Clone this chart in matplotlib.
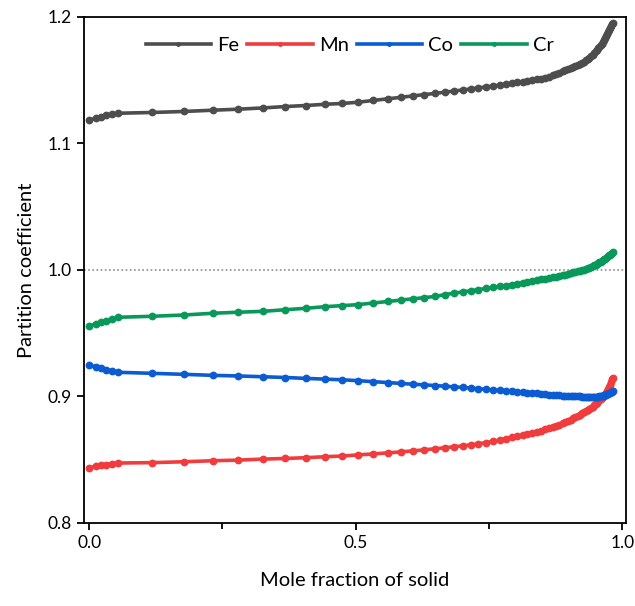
import matplotlib
matplotlib.use("Agg")
import matplotlib.pyplot as plt
import matplotlib.ticker as mticker

plt.rcParams['font.family'] = ['Lato', 'DejaVu Sans']

# mole fraction of solid (x values of every point)
frac_solid = [0.000, 0.012, 0.022, 0.032, 0.042, 0.055, 0.118, 0.178, 0.232, 0.280,
              0.326, 0.368, 0.406, 0.443, 0.474, 0.504, 0.533, 0.560, 0.585, 0.607,
              0.628, 0.649, 0.668, 0.685, 0.701, 0.716, 0.730, 0.744, 0.757, 0.770,
              0.782, 0.793, 0.803, 0.813, 0.822, 0.831, 0.839, 0.847, 0.855, 0.862,
              0.869, 0.876, 0.882, 0.888, 0.893, 0.898, 0.903, 0.908, 0.912, 0.917,
              0.921, 0.925, 0.928, 0.932, 0.935, 0.938, 0.941, 0.944, 0.947, 0.950,
              0.952, 0.955, 0.957, 0.959, 0.961, 0.963, 0.965, 0.967, 0.969, 0.971,
              0.973, 0.975, 0.977, 0.979, 0.981, 0.982]

k_fe = [1.1184, 1.1198, 1.1210, 1.1223, 1.1231, 1.1239, 1.1245, 1.1253, 1.1263, 1.1271,
        1.1281, 1.1292, 1.1300, 1.1310, 1.1316, 1.1326, 1.1340, 1.1353, 1.1365, 1.1376,
        1.1386, 1.1396, 1.1406, 1.1415, 1.1423, 1.1431, 1.1439, 1.1447, 1.1454, 1.1461,
        1.1468, 1.1475, 1.1482, 1.1489, 1.1496, 1.1502, 1.1508, 1.1513, 1.1519, 1.1528,
        1.1539, 1.1550, 1.1560, 1.1570, 1.1578, 1.1586, 1.1595, 1.1603, 1.1610, 1.1619,
        1.1626, 1.1638, 1.1647, 1.1658, 1.1667, 1.1676, 1.1688, 1.1703, 1.1717, 1.1732,
        1.1741, 1.1756, 1.1765, 1.1777, 1.1790, 1.1804, 1.1818, 1.1833, 1.1848, 1.1864,
        1.1880, 1.1896, 1.1913, 1.1930, 1.1947, 1.1956]

k_mn = [0.8437, 0.8447, 0.8455, 0.8462, 0.8468, 0.8474, 0.8477, 0.8484, 0.8492, 0.8497,
        0.8505, 0.8510, 0.8516, 0.8524, 0.8529, 0.8538, 0.8546, 0.8554, 0.8562, 0.8570,
        0.8578, 0.8587, 0.8595, 0.8603, 0.8610, 0.8618, 0.8626, 0.8635, 0.8645, 0.8656,
        0.8667, 0.8677, 0.8686, 0.8695, 0.8704, 0.8713, 0.8722, 0.8731, 0.8740, 0.8749,
        0.8758, 0.8768, 0.8778, 0.8788, 0.8797, 0.8807, 0.8817, 0.8827, 0.8836, 0.8846,
        0.8855, 0.8866, 0.8874, 0.8885, 0.8893, 0.8900, 0.8910, 0.8920, 0.8931, 0.8942,
        0.8950, 0.8962, 0.8970, 0.8979, 0.8988, 0.8997, 0.9007, 0.9017, 0.9028, 0.9040,
        0.9056, 0.9073, 0.9092, 0.9112, 0.9135, 0.9150]

k_co = [0.9251, 0.9235, 0.9222, 0.9212, 0.9202, 0.9191, 0.9183, 0.9175, 0.9167, 0.9162,
        0.9156, 0.9150, 0.9143, 0.9137, 0.9132, 0.9125, 0.9117, 0.9110, 0.9103, 0.9097,
        0.9092, 0.9086, 0.9081, 0.9076, 0.9071, 0.9066, 0.9061, 0.9057, 0.9052, 0.9048,
        0.9044, 0.9040, 0.9037, 0.9033, 0.9030, 0.9027, 0.9024, 0.9021, 0.9018, 0.9015,
        0.9013, 0.9010, 0.9008, 0.9007, 0.9006, 0.9005, 0.9004, 0.9003, 0.9002, 0.9001,
        0.9000, 0.8999, 0.8998, 0.8998, 0.8997, 0.8997, 0.8997, 0.8997, 0.8997, 0.8997,
        0.8998, 0.8999, 0.9000, 0.9001, 0.9003, 0.9005, 0.9008, 0.9011, 0.9015, 0.9019,
        0.9023, 0.9027, 0.9031, 0.9035, 0.9039, 0.9041]

k_cr = [0.9555, 0.9573, 0.9587, 0.9597, 0.9611, 0.9626, 0.9634, 0.9644, 0.9658, 0.9666,
        0.9673, 0.9686, 0.9697, 0.9710, 0.9718, 0.9726, 0.9739, 0.9751, 0.9762, 0.9772,
        0.9781, 0.9791, 0.9806, 0.9817, 0.9827, 0.9836, 0.9845, 0.9854, 0.9862, 0.9870,
        0.9877, 0.9885, 0.9892, 0.9899, 0.9906, 0.9913, 0.9919, 0.9925, 0.9931, 0.9936,
        0.9941, 0.9946, 0.9952, 0.9958, 0.9963, 0.9969, 0.9975, 0.9981, 0.9985, 0.9990,
        0.9995, 0.9999, 1.0003, 1.0009, 1.0014, 1.0019, 1.0025, 1.0031, 1.0037, 1.0043,
        1.0048, 1.0055, 1.0060, 1.0066, 1.0071, 1.0077, 1.0083, 1.0089, 1.0095, 1.0101,
        1.0108, 1.0115, 1.0122, 1.0129, 1.0136, 1.0140]

elements = ["Fe", "Mn", "Co", "Cr"]
series = [k_fe, k_mn, k_co, k_cr]
colors = ["#4d4d4d", "#f03c3c", "#0b5bd3", "#08995a"]

fig = plt.figure(figsize=(6.35, 6.06), dpi=100)
ax = fig.add_axes([0.132, 0.137, 0.854, 0.835])

ax.axhline(1.0, color="#8c8c8c", linestyle=(0, (1, 1.5)), linewidth=1.2, zorder=1)

for name, vals, c in zip(elements, series, colors):
    ax.plot(frac_solid, vals, color=c, linewidth=2.6, marker="o", markersize=4.6,
            label=name, zorder=3)

ax.set_xlim(-0.01, 1.007)
ax.set_ylim(0.8, 1.2)
ax.xaxis.set_major_locator(mticker.MultipleLocator(0.5))
ax.xaxis.set_minor_locator(mticker.MultipleLocator(0.25))
ax.yaxis.set_major_locator(mticker.MultipleLocator(0.1))
ax.xaxis.set_major_formatter(mticker.FormatStrFormatter("%.1f"))
ax.yaxis.set_major_formatter(mticker.FormatStrFormatter("%.1f"))
ax.tick_params(axis="both", which="both", direction="out", width=1.3,
               top=False, right=False, labelsize=12.5)
ax.tick_params(axis="both", which="major", length=5)
ax.tick_params(axis="x", which="minor", length=4)
for s in ax.spines.values():
    s.set_linewidth(1.3)

ax.set_xlabel("Mole fraction of solid", fontsize=14.5, labelpad=15)
ax.set_ylabel("Partition coefficient", fontsize=14.5, labelpad=9)

leg = ax.legend(loc="upper center", bbox_to_anchor=(0.49, 1.0), ncol=4, frameon=False,
                fontsize=14.5, handlelength=3.25, handletextpad=0.3, columnspacing=0.4,
                markerscale=0.55, borderaxespad=0.6)

fig.savefig("out.png", dpi=100)
